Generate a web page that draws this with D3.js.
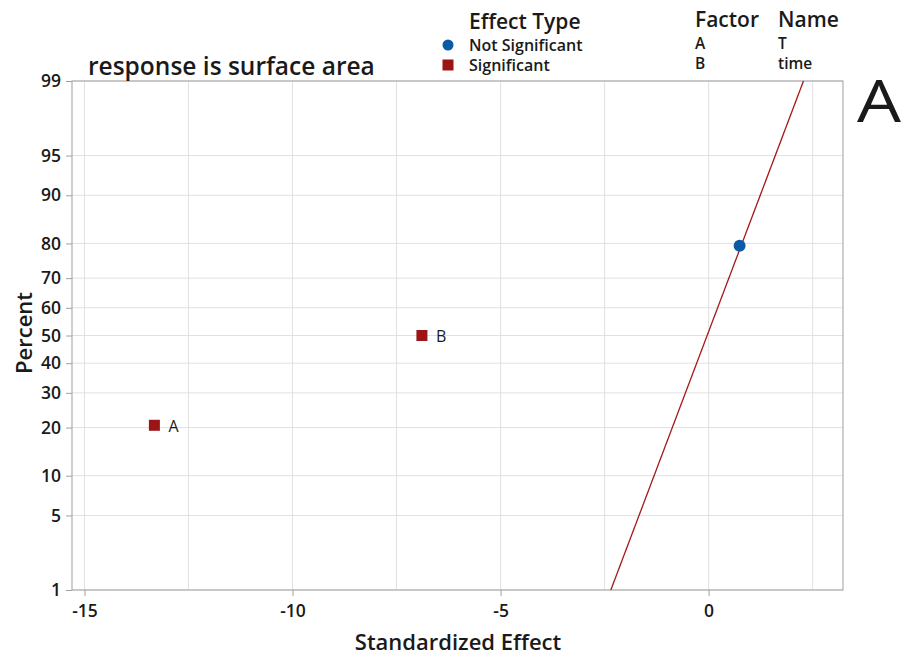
<!DOCTYPE html>
<html>
<head>
<meta charset="utf-8">
<script src="https://cdn.jsdelivr.net/npm/d3@7"></script>
<style>
  body { margin: 0; background: #fff; }
  text { font-family: "Open Sans", "Noto Sans", sans-serif; fill: #1a1a1a; }
</style>
</head>
<body>
<svg id="chart"></svg>
<script>
// данные графика
let effectNames = ["A", "B", "AB"];
let effectValues = [-13.32, -6.89, 0.745];
let effectPercent = [20.59, 50, 79.41];
let effectSignificant = [true, true, false];
let effectLabels = ["A", "B", ""];

let percentTicks = [1, 5, 10, 20, 30, 40, 50, 60, 70, 80, 90, 95, 99];
let effectTicks = [-15, -10, -5, 0];
let effectGrid = [-15, -12.5, -10, -7.5, -5, -2.5, 0, 2.5];

// подогнанная линия (Lenth)
let lineEffect = [-2.35, 2.28];
let linePercent = [1, 99];

let factorCodes = ["A", "B"];
let factorNames = ["T", "time"];

// обратная функция нормального распределения (Acklam)
function probit(p) {
    let a = [-3.969683028665376e+01, 2.209460984245205e+02, -2.759285104469687e+02, 1.383577518672690e+02, -3.066479806614716e+01, 2.506628277459239e+00];
    let b = [-5.447609879822406e+01, 1.615858368580409e+02, -1.556989798598866e+02, 6.680131188771972e+01, -1.328068155288572e+01];
    let c = [-7.784894002430293e-03, -3.223964580411365e-01, -2.400758277161838e+00, -2.549732539343734e+00, 4.374664141464968e+00, 2.938163982698783e+00];
    let d = [7.784695709041462e-03, 3.224671290700398e-01, 2.445134137142996e+00, 3.754408661907416e+00];
    let pl = 0.02425, q, r;
    if (p < pl) {
        q = Math.sqrt(-2 * Math.log(p));
        return (((((c[0]*q+c[1])*q+c[2])*q+c[3])*q+c[4])*q+c[5]) / ((((d[0]*q+d[1])*q+d[2])*q+d[3])*q+1);
    } else if (p <= 1 - pl) {
        q = p - 0.5; r = q * q;
        return (((((a[0]*r+a[1])*r+a[2])*r+a[3])*r+a[4])*r+a[5])*q / (((((b[0]*r+b[1])*r+b[2])*r+b[3])*r+b[4])*r+1);
    } else {
        q = Math.sqrt(-2 * Math.log(1 - p));
        return -(((((c[0]*q+c[1])*q+c[2])*q+c[3])*q+c[4])*q+c[5]) / ((((d[0]*q+d[1])*q+d[2])*q+d[3])*q+1);
    }
}

let width = 904;
let height = 657;
let plotLeft = 72, plotRight = 843, plotTop = 81, plotBottom = 590;

let svg = d3.select("#chart")
    .attr("width", width)
    .attr("height", height);

let scaleX = d3.scaleLinear()
    .domain([-15.3, 3.23])
    .range([plotLeft, plotRight]);

let zScale = d3.scaleLinear()
    .domain([probit(0.01), probit(0.99)])
    .range([plotBottom, plotTop]);
let scaleY = p => zScale(probit(p / 100));

// сетка
svg.append("g").selectAll("line")
    .data(effectGrid)
    .join("line")
    .attr("x1", d => scaleX(d)).attr("x2", d => scaleX(d))
    .attr("y1", plotTop).attr("y2", plotBottom)
    .style("stroke", "#e1e1e1").style("stroke-width", 1);

svg.append("g").selectAll("line")
    .data(percentTicks)
    .join("line")
    .attr("x1", plotLeft).attr("x2", plotRight)
    .attr("y1", d => scaleY(d)).attr("y2", d => scaleY(d))
    .style("stroke", "#e1e1e1").style("stroke-width", 1);

// рамка
svg.append("rect")
    .attr("x", plotLeft).attr("y", plotTop)
    .attr("width", plotRight - plotLeft).attr("height", plotBottom - plotTop)
    .style("fill", "none").style("stroke", "#a0a0a0").style("stroke-width", 1);

// оси
let axisX = d3.axisBottom(scaleX).tickValues(effectTicks).tickSize(6).tickPadding(9).tickFormat(d => String(d));
let gx = svg.append("g")
    .attr("transform", `translate(0, ${plotBottom})`)
    .call(axisX);
gx.select(".domain").remove();

let axisY = d3.axisLeft(zScale)
    .tickValues(percentTicks.map(p => probit(p / 100)))
    .tickFormat((d, i) => percentTicks[i])
    .tickSize(6).tickPadding(5);
let gy = svg.append("g")
    .attr("transform", `translate(${plotLeft}, 0)`)
    .call(axisY);
gy.select(".domain").remove();

svg.selectAll(".tick line").style("stroke", "#a0a0a0");
svg.selectAll(".tick text")
    .style("font-size", "17.5px")
    .style("font-weight", "600")
    .style("fill", "#1a1a1a");

// линия
let lineData = lineEffect.map((e, i) => ({x: e, p: linePercent[i]}));
let lineF = d3.line()
    .x(d => scaleX(d.x))
    .y(d => scaleY(d.p));
svg.append("path")
    .datum(lineData)
    .attr("d", lineF)
    .style("fill", "none")
    .style("stroke", "#a3191c")
    .style("stroke-width", 1.3);

// точки
let points = effectValues.map((v, i) => ({x: v, p: effectPercent[i], sig: effectSignificant[i], label: effectLabels[i]}));
svg.append("g").selectAll("rect")
    .data(points.filter(d => d.sig))
    .join("rect")
    .attr("x", d => scaleX(d.x) - 5.5)
    .attr("y", d => scaleY(d.p) - 5.5)
    .attr("width", 11).attr("height", 11)
    .style("fill", "#9b1516");
svg.append("g").selectAll("circle")
    .data(points.filter(d => !d.sig))
    .join("circle")
    .attr("cx", d => scaleX(d.x))
    .attr("cy", d => scaleY(d.p))
    .attr("r", 6)
    .style("fill", "#0a5aa8");
svg.append("g").selectAll("text")
    .data(points.filter(d => d.label))
    .join("text")
    .attr("x", d => scaleX(d.x) + 14)
    .attr("y", d => scaleY(d.p) + 6.5)
    .style("font-size", "16px")
    .text(d => d.label);

// подписи осей
svg.append("text")
    .attr("x", 458)
    .attr("y", 650)
    .attr("text-anchor", "middle")
    .style("font-size", "22px").style("font-weight", "600")
    .text("Standardized Effect");
svg.append("text")
    .attr("transform", `translate(32, 333) rotate(-90)`)
    .attr("text-anchor", "middle")
    .style("font-size", "22px").style("font-weight", "600")
    .text("Percent");

// заголовок
svg.append("text")
    .attr("x", 88).attr("y", 75)
    .style("font-size", "24.5px").style("font-weight", "600")
    .text("response is surface area");

// легенда
svg.append("text").attr("x", 469).attr("y", 29)
    .style("font-size", "21px").style("font-weight", "600")
    .text("Effect Type");
svg.append("circle").attr("cx", 448).attr("cy", 45).attr("r", 5.5).style("fill", "#0a5aa8");
svg.append("text").attr("x", 469).attr("y", 51)
    .style("font-size", "16px").style("font-weight", "600")
    .text("Not Significant");
svg.append("rect").attr("x", 442.5).attr("y", 59.5).attr("width", 11).attr("height", 11).style("fill", "#9b1516");
svg.append("text").attr("x", 469).attr("y", 71)
    .style("font-size", "16px").style("font-weight", "600")
    .text("Significant");

svg.append("text").attr("x", 695).attr("y", 27)
    .style("font-size", "21px").style("font-weight", "600")
    .text("Factor");
svg.append("text").attr("x", 778).attr("y", 27)
    .style("font-size", "21px").style("font-weight", "600")
    .text("Name");
factorCodes.forEach((c, i) => {
    svg.append("text").attr("x", 695).attr("y", 49 + i * 20)
        .style("font-size", "15.5px").style("font-weight", "600").text(c);
    svg.append("text").attr("x", 778).attr("y", 49 + i * 20)
        .style("font-size", "15.5px").style("font-weight", "600").text(factorNames[i]);
});

// метка панели
svg.append("text")
    .attr("transform", "translate(857, 122) scale(1.2, 1)")
    .style("font-size", "58px")
    .text("A");
</script>
</body>
</html>
